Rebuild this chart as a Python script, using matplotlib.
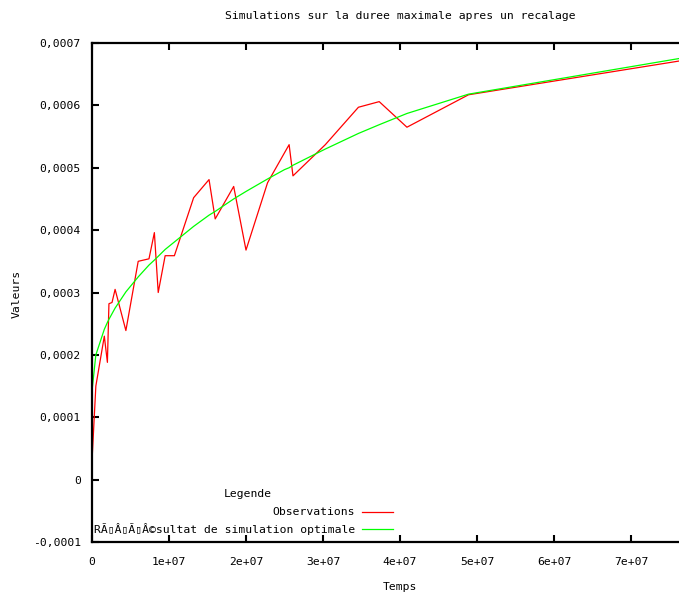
import matplotlib
matplotlib.use("Agg")
import matplotlib.pyplot as plt
from matplotlib.lines import Line2D

# ---- data ----
temps = [0.0e7, 0.05e7, 0.16e7, 0.20e7, 0.22e7, 0.26e7, 0.30e7, 0.44e7, 0.60e7,
         0.74e7, 0.81e7, 0.86e7, 0.95e7, 1.07e7, 1.32e7, 1.52e7, 1.60e7, 1.84e7,
         2.00e7, 2.28e7, 2.50e7, 2.56e7, 2.61e7, 3.03e7, 3.46e7, 3.73e7, 4.09e7,
         4.89e7, 7.62e7]
observations = [0.000030, 0.000150, 0.000230, 0.000188, 0.000282, 0.000284, 0.000305,
                0.000239, 0.000350, 0.000354, 0.000396, 0.000300, 0.000359, 0.000359,
                0.000452, 0.000481, 0.000418, 0.000470, 0.000368, 0.000476, 0.000524,
                0.000537, 0.000487, 0.000537, 0.000597, 0.000606, 0.000565, 0.000617,
                0.000671]
simulation = [0.000142, 0.000200, 0.000241, 0.000252, 0.000257, 0.000266, 0.000275,
              0.000301, 0.000325, 0.000344, 0.000352, 0.000358, 0.000369, 0.000381,
              0.000406, 0.000424, 0.000430, 0.000450, 0.000462, 0.000482, 0.000497,
              0.000500, 0.000504, 0.000530, 0.000555, 0.000569, 0.000587, 0.000618,
              0.000675]

series_labels = ["Observations", "RÃ\u25afÂ\u25afÃ\u25afÂ©sultat de simulation optimale"]
legend_title = "Legende"
title = "Simulations sur la duree maximale apres un recalage"
xlabel = "Temps"
ylabel = "Valeurs"
xticks = [0, 1e7, 2e7, 3e7, 4e7, 5e7, 6e7, 7e7]
xtick_labels = ["0", "1e+07", "2e+07", "3e+07", "4e+07", "5e+07", "6e+07", "7e+07"]
yticks = [-0.0001, 0, 0.0001, 0.0002, 0.0003, 0.0004, 0.0005, 0.0006, 0.0007]
ytick_labels = ["-0,0001", "0", "0,0001", "0,0002", "0,0003", "0,0004", "0,0005",
                "0,0006", "0,0007"]

FONT = ["DejaVu Sans Mono", "DejaVu Sans"]
FS = 8.2
plt.rcParams['font.family'] = FONT

W, H = 679, 595
fig = plt.figure(figsize=(W / 100, H / 100), dpi=100)
fig.patch.set_facecolor("white")

left, right, top, bottom = 92, 708, 43, 542
ax = fig.add_axes([left / W, 1 - bottom / H, (right - left) / W, (bottom - top) / H])

l_obs, = ax.plot(temps, observations, color="#ff0000", lw=0.9)
l_sim, = ax.plot(temps, simulation, color="#00ff00", lw=0.9)

ax.set_xlim(0, 8e7)
ax.set_ylim(-0.0001, 0.0007)
ax.set_xticks(xticks)
ax.set_xticklabels(xtick_labels, fontsize=FS, family=FONT)
ax.set_yticks(yticks)
ax.set_yticklabels(ytick_labels, fontsize=FS, family=FONT)
ax.tick_params(axis="both", direction="in", length=5, width=1.5, color="black",
               top=True, right=False)
ax.tick_params(axis="x", pad=11)
ax.tick_params(axis="y", pad=8)
for s in ax.spines.values():
    s.set_linewidth(1.6)
    s.set_color("black")
ax.spines["right"].set_visible(False)

fig.text(400 / W, 1 - 16 / H, title, ha="center", va="center", fontsize=FS, family=FONT)
fig.text(400 / W, 1 - 587 / H, xlabel, ha="center", va="center", fontsize=FS, family=FONT)
fig.text(17 / W, 1 - 294 / H, ylabel, ha="center", va="center", rotation=90,
         fontsize=FS, family=FONT)

# legend, gnuplot style (text right-aligned, sample to the right)
fig.text(248 / W, 1 - 494 / H, legend_title, ha="center", va="center", fontsize=FS, family=FONT)
for i, (h, lab) in enumerate(zip([l_obs, l_sim], series_labels)):
    yy = 1 - (512 + 17 * i) / H
    fig.text(355 / W, yy, lab, ha="right", va="center", fontsize=FS, family=FONT)
    fig.add_artist(Line2D([362 / W, 393 / W], [yy, yy], color=h.get_color(), lw=0.9,
                          transform=fig.transFigure))

fig.savefig("out.png", dpi=100)
